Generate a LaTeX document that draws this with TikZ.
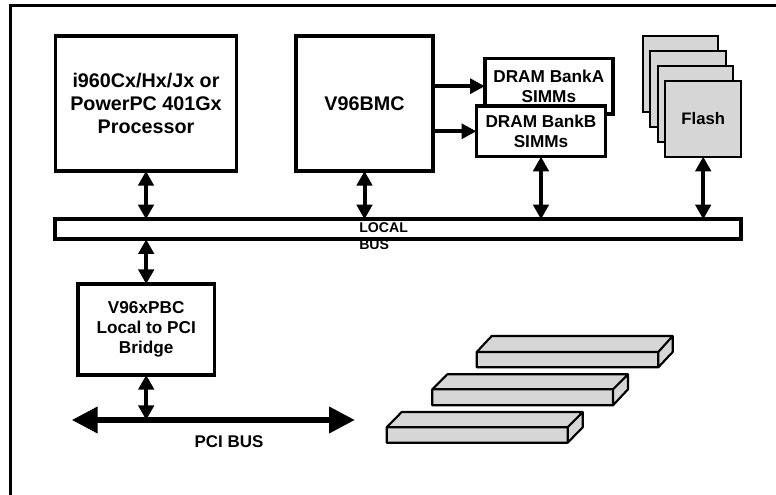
\documentclass[tikz,border=0pt]{standalone}
\usepackage{fontspec}
\setmainfont{Liberation Sans}
\usetikzlibrary{arrows.meta,positioning}
\tikzset{
  blockbox/.style={draw=black,fill=white,line width=2.7pt,outer sep=0pt,align=center,font=\bfseries\fontsize{14.8}{17.5}\selectfont},
  smallbox/.style={blockbox,font=\bfseries\fontsize{12.9}{15}\selectfont},
  flashbox/.style={draw=black,fill=black!16,line width=1.6pt,outer sep=0pt,minimum width=56.8pt,minimum height=56.8pt,font=\bfseries\fontsize{12.5}{15}\selectfont},
  slotface/.style={draw=black,fill=black!16,line width=1.6pt,line join=round},
  busarrow/.style={{Triangle[length=11pt,width=11.5pt]}-{Triangle[length=11pt,width=11.5pt]},line width=3pt},
  feedarrow/.style={-{Triangle[length=11pt,width=11pt]},line width=2.7pt},
  pciarrow/.style={{Triangle[length=19.5pt,width=19pt]}-{Triangle[length=19.5pt,width=19pt]},line width=4.5pt}
}
\begin{document}
\begin{tikzpicture}[x=0.75pt,y=-0.75pt,>=Latex]
\useasboundingbox (0,0) rectangle (776,495);
\draw[line width=1.6pt] (10.5,495)--(10.5,5.5)--(776,5.5);
\node[blockbox,minimum width=135.8pt,minimum height=101.3pt] (cpu) at (146,103.5) {i960Cx/Hx/Jx or\\PowerPC 401Gx\\Processor};
\node[blockbox,minimum width=102.5pt,minimum height=101.3pt] (bmc) at (364.5,103.5) {V96BMC};
\node[smallbox,minimum width=96pt,minimum height=41.5pt,xshift=1pt] (banka) at (547.5,86.2) {DRAM BankA\\SIMMs};
\node[smallbox,minimum width=97pt,minimum height=38pt] (bankb) at (541,131.3) {DRAM BankB\\SIMMs};
\node[flashbox] (flasha) at (680.5,73.8) {};
\node[flashbox] (flashb) at (688,88.8) {};
\node[flashbox] (flashc) at (695.5,103.8) {};
\node[flashbox] (flashd) at (703.2,118.8) {Flash};
\node[draw=black,fill=white,line width=2.7pt,outer sep=0pt,minimum width=514.5pt,minimum height=15pt] (lbus) at (398.2,229.3) {};
\node[blockbox,font=\bfseries\fontsize{12.9}{15}\selectfont,minimum width=102.2pt,minimum height=68.2pt] (bridge) at (146.2,329.5) {V96xPBC\\Local to PCI\\Bridge};
\node[anchor=west,align=left,inner sep=0pt,font=\bfseries\fontsize{10.6}{12.75}\selectfont] (lbuslabel) at (359,236.5) {LOCAL\\BUS};
\coordinate (pcileft) at (71.7,420);
\coordinate (pciright) at (355,420);
\node[font=\bfseries\fontsize{12.7}{15}\selectfont,inner sep=0pt] (pcilabel) at (229,441.7) {PCI BUS};
\draw[feedarrow] (banka.west -| bmc.east)--(banka.west);
\draw[feedarrow] (bankb.west -| bmc.east)--(bankb.west);
\draw[busarrow] (cpu.south)--(cpu.south |- lbus.north);
\draw[busarrow] (bmc.south)--(bmc.south |- lbus.north);
\draw[busarrow] (bankb.south)--(bankb.south |- lbus.north);
\draw[busarrow] (flashd.south)--(flashd.south |- lbus.north);
\draw[busarrow] (bridge.north)--(bridge.north |- lbus.south);
\draw[pciarrow] (pcileft)--(pciright);
\draw[busarrow] (bridge.south)--(bridge.south |- pcileft);
\draw[slotface] (476.7,352)--(491.7,336)--(672.7,336)--(672.7,352)--(658.3,367.3)--(476.7,367.3)--cycle (476.7,352)--(658.3,352)--(658.3,367.3) (658.3,352)--(672.7,336);
\draw[slotface] (432.3,389.3)--(447.3,374.3)--(628,374.3)--(628,389.3)--(613,405.3)--(432.3,405.3)--cycle (432.3,389.3)--(613,389.3)--(613,405.3) (613,389.3)--(628,374.3);
\draw[slotface] (386.7,427.3)--(401.7,412)--(582.7,412)--(582.7,427.3)--(567.7,442.7)--(386.7,442.7)--cycle (386.7,427.3)--(567.7,427.3)--(567.7,442.7) (567.7,427.3)--(582.7,412);
\end{tikzpicture}
\end{document}
